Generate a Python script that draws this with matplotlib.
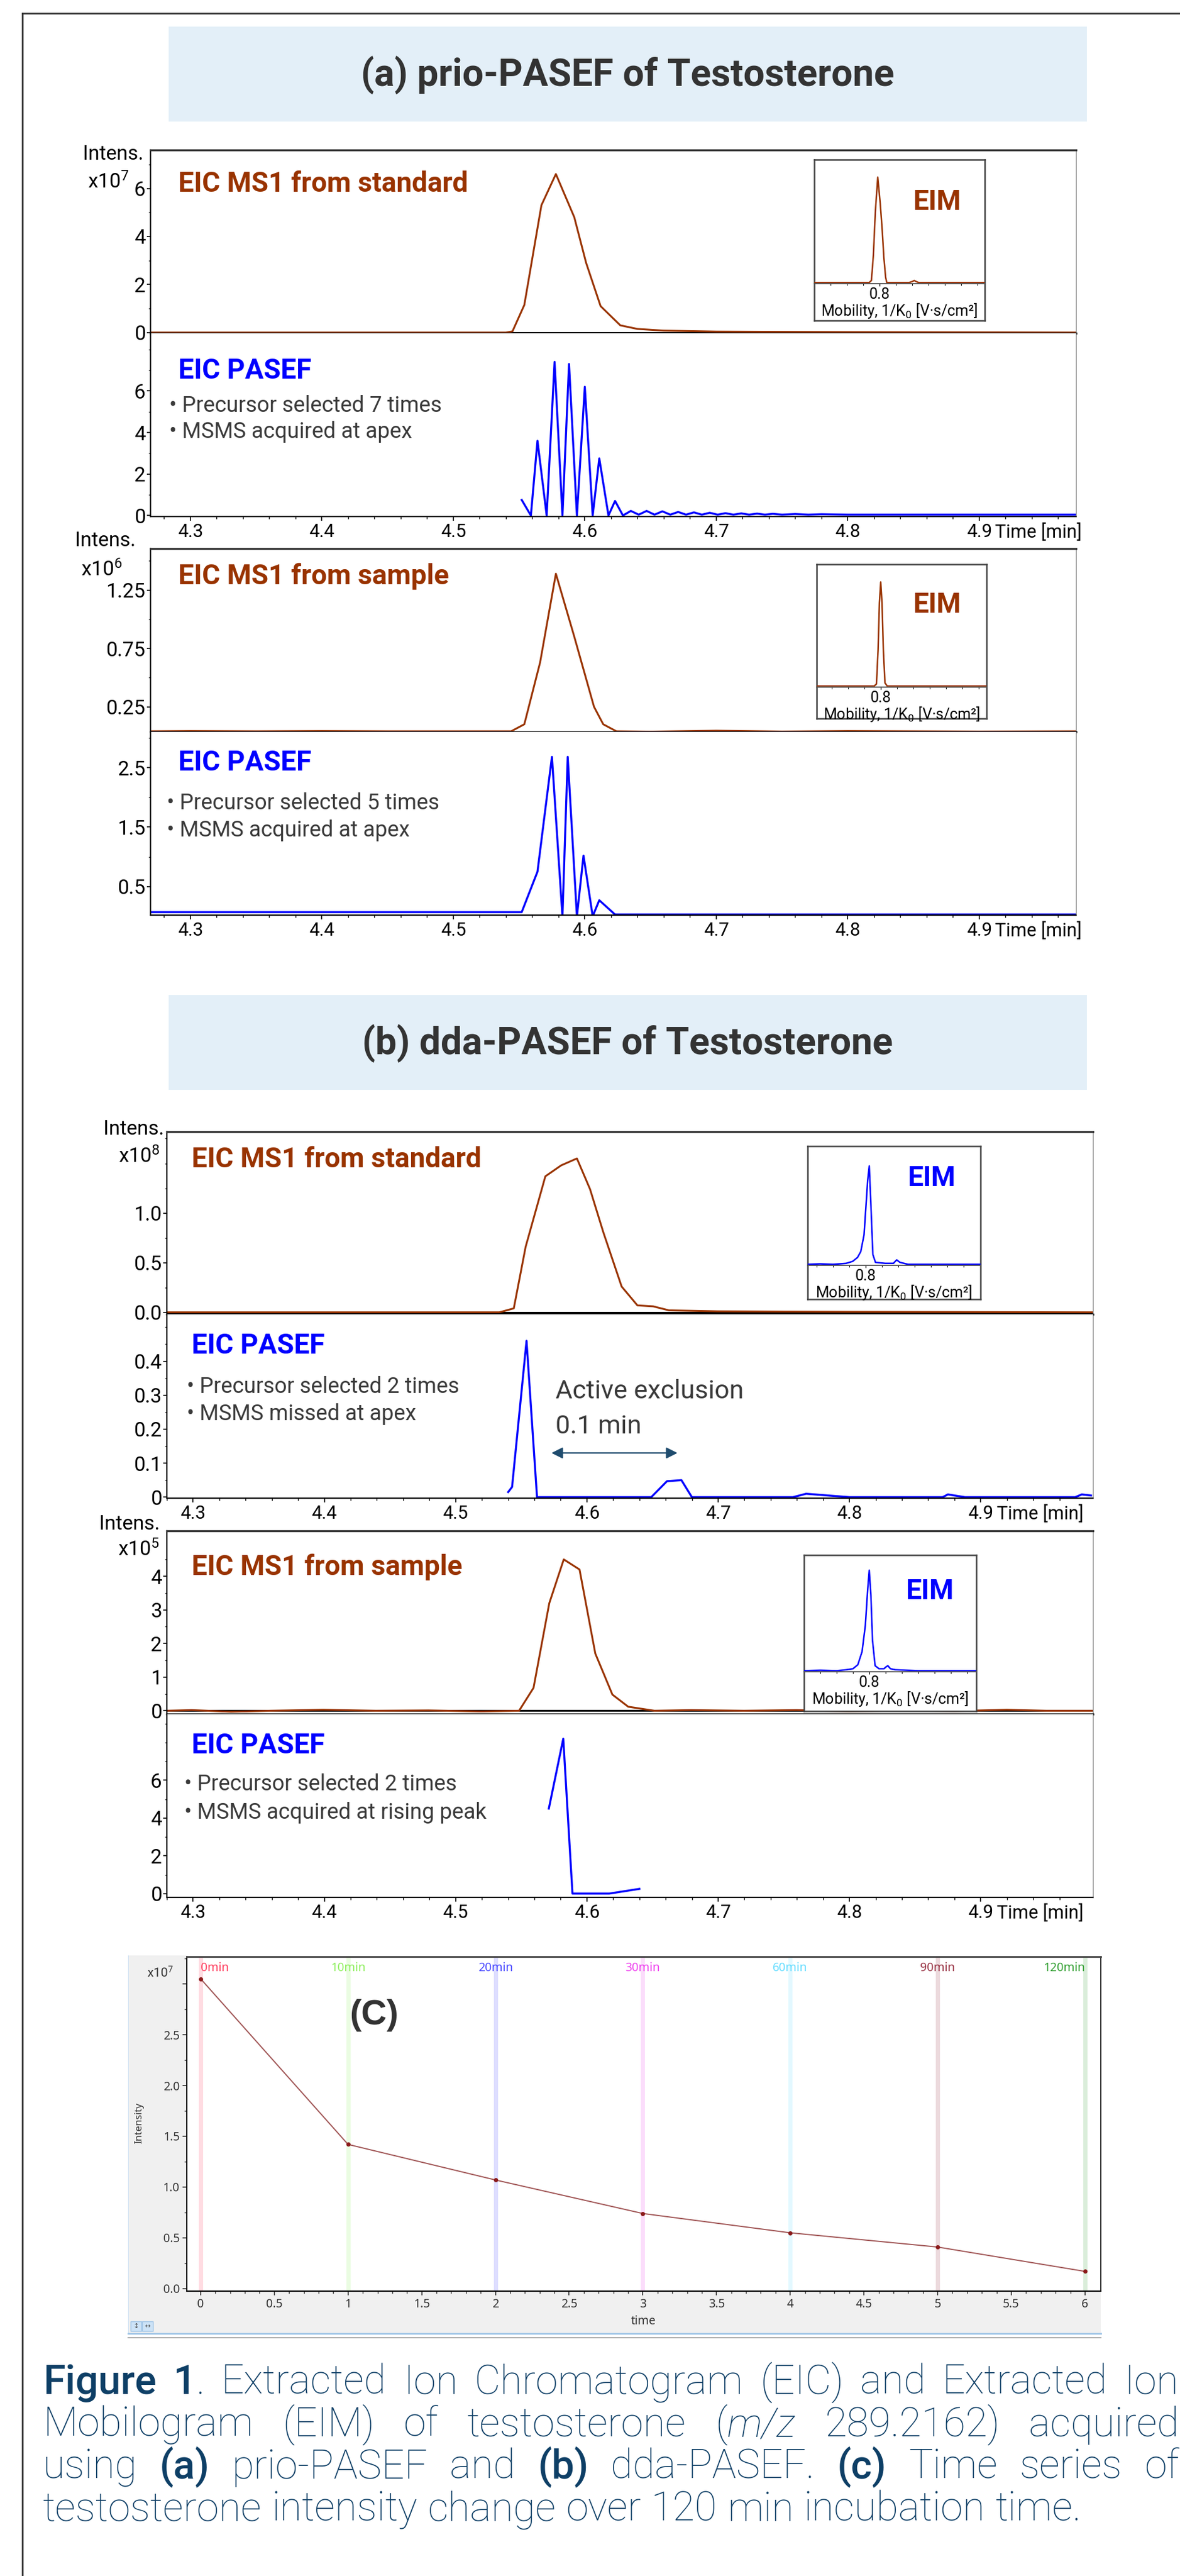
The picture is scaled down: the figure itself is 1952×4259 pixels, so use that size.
import re
import matplotlib
matplotlib.use("Agg")
import matplotlib.pyplot as plt
from matplotlib.lines import Line2D
from matplotlib.patches import Rectangle

plt.rcParams['font.family'] = ['Roboto', 'DejaVu Sans']
plt.rcParams['mathtext.fontset'] = 'custom'
plt.rcParams['mathtext.rm'] = 'Roboto'
plt.rcParams['mathtext.it'] = 'Roboto:italic'
plt.rcParams['mathtext.bf'] = 'Roboto:bold'

BROWN = '#993300'
BLUE = '#0000ff'
DARK = '#333333'
GREYTXT = '#3a3a3a'

# ---------------- data ----------------
# (a) prio-PASEF, standard
a1_ms1_t = [4.27, 4.54, 4.545, 4.554, 4.567, 4.578, 4.592, 4.601, 4.612, 4.627, 4.64, 4.66, 4.70, 4.80, 4.974]
a1_ms1_i = [0.0, 0.0, 0.05, 1.15, 5.3, 6.6, 4.8, 2.9, 1.1, 0.3, 0.15, 0.08, 0.04, 0.02, 0.0]
a1_pas_t = [4.552, 4.559, 4.564, 4.571, 4.577, 4.583, 4.588, 4.594, 4.600, 4.606, 4.611, 4.618,
            4.623, 4.629, 4.635, 4.641, 4.647, 4.653, 4.659, 4.665, 4.671, 4.677, 4.683, 4.689,
            4.695, 4.701, 4.707, 4.713, 4.719, 4.725, 4.731, 4.737, 4.743, 4.750, 4.760, 4.770,
            4.780, 4.800, 4.974]
a1_pas_i = [0.75, 0.0, 3.6, 0.0, 7.4, 0.0, 7.3, 0.0, 6.2, 0.0, 2.75, 0.0,
            0.7, 0.0, 0.22, 0.04, 0.22, 0.04, 0.2, 0.04, 0.17, 0.04, 0.15, 0.04,
            0.13, 0.04, 0.11, 0.04, 0.1, 0.04, 0.09, 0.04, 0.08, 0.04, 0.07, 0.04,
            0.06, 0.04, 0.04]
a1_eim_m = [0.60, 0.768, 0.775, 0.781, 0.787, 0.7944, 0.802, 0.808, 0.813, 0.8185, 0.822,
            0.89, 0.90, 0.906, 0.912, 0.92, 1.122]
a1_eim_i = [0.0, 0.0, 0.02, 0.26, 0.67, 1.0, 0.75, 0.5, 0.24, 0.05, 0.0,
            0.0, 0.01, 0.02, 0.01, 0.0, 0.0]

# (a) prio-PASEF, sample
a2_ms1_t = [4.27, 4.30, 4.35, 4.40, 4.45, 4.50, 4.544, 4.554, 4.566, 4.578, 4.592, 4.607,
            4.614, 4.624, 4.65, 4.70, 4.75, 4.80, 4.85, 4.90, 4.974]
a2_ms1_i = [0.04, 0.042, 0.04, 0.042, 0.04, 0.04, 0.04, 0.10, 0.63, 1.39, 0.85, 0.25,
            0.10, 0.04, 0.037, 0.045, 0.038, 0.042, 0.04, 0.038, 0.04]
a2_pas_t = [4.27, 4.552, 4.564, 4.575, 4.583, 4.587, 4.594, 4.599, 4.606, 4.611, 4.623, 4.974]
a2_pas_i = [0.07, 0.07, 0.75, 2.68, 0.0, 2.68, 0.0, 1.02, 0.0, 0.27, 0.03, 0.03]
a2_eim_m = [0.604, 0.78, 0.787, 0.792, 0.796, 0.80, 0.804, 0.808, 0.813, 0.82, 1.124]
a2_eim_i = [0.0, 0.0, 0.02, 0.35, 0.8, 1.0, 0.8, 0.35, 0.03, 0.0, 0.0]

# (b) dda-PASEF, standard
b1_ms1_t = [4.281, 4.534, 4.545, 4.554, 4.569, 4.581, 4.593, 4.603, 4.613, 4.627, 4.639,
            4.651, 4.663, 4.70, 4.80, 4.986]
b1_ms1_i = [0.0, 0.0, 0.04, 0.66, 1.37, 1.48, 1.55, 1.24, 0.81, 0.26, 0.07,
            0.06, 0.02, 0.01, 0.005, 0.0]
b1_pas_t = [4.540, 4.543, 4.554, 4.562, 4.649, 4.661, 4.672, 4.680, 4.757, 4.767, 4.800,
            4.871, 4.875, 4.888, 4.972, 4.977, 4.984]
b1_pas_i = [0.015, 0.03, 0.46, 0.0, 0.0, 0.047, 0.05, 0.0, 0.0, 0.01, 0.0,
            0.0, 0.008, 0.0, 0.0, 0.008, 0.005]
b1_eim_m = [0.622, 0.66, 0.70, 0.74, 0.76, 0.775, 0.785, 0.795, 0.80, 0.806, 0.811, 0.816,
            0.822, 0.83, 0.86, 0.885, 0.895, 0.905, 0.93, 1.0, 1.152]
b1_eim_i = [0.0, 0.005, 0.0, 0.01, 0.03, 0.07, 0.13, 0.3, 0.55, 0.85, 1.0, 0.6,
            0.1, 0.02, 0.01, 0.01, 0.045, 0.02, 0.0, 0.0, 0.0]

# (b) dda-PASEF, sample
b2_ms1_t = [4.281, 4.30, 4.33, 4.36, 4.40, 4.44, 4.48, 4.52, 4.549, 4.560, 4.572, 4.583,
            4.595, 4.607, 4.620, 4.632, 4.652, 4.68, 4.72, 4.76, 4.80, 4.84, 4.88, 4.92,
            4.95, 4.986]
b2_ms1_i = [0.0, 0.02, -0.03, 0.0, 0.03, 0.0, 0.01, -0.02, 0.0, 0.68, 3.2, 4.5,
            4.2, 1.7, 0.48, 0.12, 0.0, 0.02, 0.0, 0.02, -0.02, 0.01, -0.01, 0.03,
            0.0, 0.0]
b2_pas_t = [4.571, 4.582, 4.589, 4.617, 4.640]
b2_pas_i = [4.5, 8.2, 0.0, 0.0, 0.25]
b2_eim_m = [0.60, 0.65, 0.70, 0.73, 0.75, 0.765, 0.778, 0.788, 0.795, 0.80, 0.805, 0.81,
            0.818, 0.83, 0.845, 0.852, 0.857, 0.865, 0.88, 0.95, 1.128]
b2_eim_i = [0.0, 0.005, 0.0, 0.01, 0.02, 0.06, 0.19, 0.45, 0.8, 1.0, 0.75, 0.3,
            0.05, 0.02, 0.02, 0.04, 0.05, 0.02, 0.01, 0.0, 0.0]

# (c) time series
c_time = [0, 1, 2, 3, 4, 5, 6]
c_intens = [3.05, 1.42, 1.07, 0.74, 0.55, 0.41, 0.17]
c_labels = ['0min', '10min', '20min', '30min', '60min', '90min', '120min']
c_colors = ['#ff3f5f', '#8fef5f', '#4848ff', '#ee44ee', '#66ddff', '#993344', '#33a033']

x_ticks = [4.3, 4.4, 4.5, 4.6, 4.7, 4.8, 4.9]
x_ticklabels = ['4.3', '4.4', '4.5', '4.6', '4.7', '4.8', '4.9']

caption = [
    "**Figure** **1**. Extracted Ion Chromatogram (EIC) and Extracted Ion",
    "Mobilogram (EIM) of testosterone (_m/z_ 289.2162) acquired",
    "using **(a)** prio-PASEF and **(b)** dda-PASEF. **(c)** Time series of",
    "testosterone intensity change over 120 min incubation time.",
]

# ---------------- figure ----------------
W, H = 1952, 4259
DPI = 100
fig = plt.figure(figsize=(W / DPI, H / DPI), dpi=DPI)


def px_axes(l, t, r, b):
    return fig.add_axes([l / W, 1 - b / H, (r - l) / W, (b - t) / H])


def ftext(x, y, s, **kw):
    return fig.text(x / W, 1 - y / H, s, **kw)


# outer frame
fig.add_artist(Line2D([37 / W, 37 / W], [0, 1 - 22 / H], color=DARK, lw=2))
fig.add_artist(Line2D([37 / W, 1], [1 - 22 / H, 1 - 22 / H], color=DARK, lw=2))

# title boxes
for top, bot, title in [(44, 201, '(a) prio-PASEF of Testosterone'),
                        (1645, 1802, '(b) dda-PASEF of Testosterone')]:
    fig.add_artist(Rectangle((279 / W, 1 - bot / H), (1798 - 279) / W, (bot - top) / H,
                             transform=fig.transFigure, facecolor='#e3eff8', edgecolor='none'))
    ftext(1038, (top + bot) / 2 + 2, title, ha='center', va='center', fontsize=45,
          fontweight='bold', color=DARK)


def chrom(l, r, t, mid, b, xlim, ms1_t, ms1_i, ms1_ylim, ms1_ticks, ms1_minor,
          pas_t, pas_i, pas_ylim, pas_ticks, pas_minor):
    ax1 = px_axes(l, t, r, mid)
    ax2 = px_axes(l, mid, r, b)
    ax1.axhline(0, color='black', lw=2.2, zorder=1)
    ax1.plot(ms1_t, ms1_i, color=BROWN, lw=2.2, zorder=2)
    ax2.plot(pas_t, pas_i, color=BLUE, lw=2.4)
    ax1.set_ylim(ms1_ylim)
    ax2.set_ylim(pas_ylim)
    ax1.set_yticks(ms1_ticks[0], ms1_ticks[1])
    ax1.set_yticks(ms1_minor, minor=True)
    ax2.set_yticks(pas_ticks[0], pas_ticks[1])
    ax2.set_yticks(pas_minor, minor=True)
    for ax in (ax1, ax2):
        ax.set_xlim(xlim)
        ax.spines['left'].set_linewidth(1.6)
        ax.spines['right'].set_color('#888888')
        ax.spines['right'].set_linewidth(1.0)
        ax.tick_params(axis='y', which='major', direction='out', length=4, width=1.2,
                       labelsize=24, pad=2)
        ax.tick_params(axis='y', which='minor', direction='out', length=2.5, width=1.0)
    ax1.spines['top'].set_color(DARK)
    ax1.spines['top'].set_linewidth(2.4)
    ax1.spines['bottom'].set_linewidth(2.4)
    ax2.spines['top'].set_visible(False)
    ax2.spines['bottom'].set_linewidth(1.6)
    ax1.tick_params(axis='x', which='both', bottom=False, labelbottom=False)
    ax2.set_xticks(x_ticks, x_ticklabels)
    ax2.set_xticks([v / 100 for v in range(428, 498, 2)], minor=True)
    ax2.tick_params(axis='x', which='major', direction='out', length=5, width=1.2,
                    labelsize=22, pad=3)
    ax2.tick_params(axis='x', which='minor', direction='out', length=3, width=1.0)
    ax2.annotate('Time [min]', xy=(4.9, 0), xycoords=('data', 'axes fraction'),
                 xytext=(19, -8), textcoords='offset points', ha='left', va='top',
                 fontsize=22, annotation_clip=False)
    return ax1, ax2


def eim(l, t, r, base, b, mob, inten, ytop, color, lab_x, lab_y):
    frame = px_axes(l, t, r, b)
    frame.set_xticks([])
    frame.set_yticks([])
    for s in frame.spines.values():
        s.set_color('#444444')
        s.set_linewidth(1.8)
    ax = px_axes(l, t, r, base)
    ax.patch.set_alpha(0)
    ax.plot(mob, inten, color=color, lw=1.8)
    ax.set_xlim(mob[0], mob[-1])
    ax.set_ylim(-0.01, ytop)
    ax.set_yticks([])
    for side in ('top', 'left', 'right'):
        ax.spines[side].set_visible(False)
    ax.spines['bottom'].set_color('#555555')
    ax.spines['bottom'].set_linewidth(1.4)
    ax.set_xticks([0.8], ['0.8'])
    ax.set_xticks([0.65, 0.7, 0.75, 0.85, 0.9, 0.95, 1.0, 1.05, 1.1], minor=True)
    ax.tick_params(axis='x', which='major', length=3, width=1, labelsize=18, pad=1)
    ax.tick_params(axis='x', which='minor', length=2, width=0.8)
    ax.set_xlabel('Mobility, 1/K$_0$ [V·s/cm²]', fontsize=18, labelpad=0)
    ftext(lab_x, lab_y, 'EIM', ha='center', va='baseline', fontsize=33,
          fontweight='bold', color=color)


def label_block(x_title, y_title, title, color, x_b, y_b1, y_b2, b1, b2):
    ftext(x_title, y_title, title, ha='left', va='baseline', fontsize=33,
          fontweight='bold', color=color)
    if b1:
        ftext(x_b, y_b1, '• ' + b1, ha='left', va='baseline', fontsize=26, color=GREYTXT)
        ftext(x_b, y_b2, '• ' + b2, ha='left', va='baseline', fontsize=26, color=GREYTXT)


# ---- (a) standard ----
xa = (4.2697, 4.9736)
chrom(249, 1780, 248, 551, 854, xa, a1_ms1_t, a1_ms1_i, (-0.03, 7.6),
      ([0, 2, 4, 6], ['0', '2', '4', '6']), [1, 3, 5, 7],
      a1_pas_t, a1_pas_i, (-0.05, 8.78), ([0, 2, 4, 6], ['0', '2', '4', '6']), [1, 3, 5, 7, 8])
ftext(237, 255, 'Intens.', ha='right', va='center', fontsize=24)
ftext(214, 301, 'x10$^7$', ha='right', va='center', fontsize=24)
label_block(295, 317, 'EIC MS1 from standard', BROWN, 0, 0, 0, None, None)
label_block(295, 626, 'EIC PASEF', BLUE, 280, 681, 724,
            'Precursor selected 7 times', 'MSMS acquired at apex')
eim(1347, 264, 1629, 469, 530, a1_eim_m, a1_eim_i, 1.165, BROWN, 1550, 347)

# ---- (a) sample ----
chrom(249, 1780, 907, 1210, 1513, xa, a2_ms1_t, a2_ms1_i, (0.035, 1.605),
      ([0.25, 0.75, 1.25], ['0.25', '0.75', '1.25']), [0.5, 1.0, 1.5],
      a2_pas_t, a2_pas_i, (0.02, 3.1), ([0.5, 1.5, 2.5], ['0.5', '1.5', '2.5']), [1.0, 2.0, 3.0])
ftext(224, 894, 'Intens.', ha='right', va='center', fontsize=24)
ftext(202, 942, 'x10$^6$', ha='right', va='center', fontsize=24)
label_block(295, 966, 'EIC MS1 from sample', BROWN, 0, 0, 0, None, None)
label_block(295, 1274, 'EIC PASEF', BLUE, 276, 1338, 1383,
            'Precursor selected 5 times', 'MSMS acquired at apex')
eim(1351, 933, 1632, 1136, 1188, a2_eim_m, a2_eim_i, 1.17, BROWN, 1550, 1013)

# ---- (b) standard ----
xb = (4.2811, 4.9855)
ax_b1, ax_b1p = chrom(276, 1808, 1871, 2173, 2477, xb, b1_ms1_t, b1_ms1_i, (-0.02, 1.82),
                      ([0.0, 0.5, 1.0], ['0.0', '0.5', '1.0']), [0.25, 0.75, 1.25, 1.5, 1.75],
                      b1_pas_t, b1_pas_i, (-0.003, 0.538),
                      ([0, 0.1, 0.2, 0.3, 0.4], ['0', '0.1', '0.2', '0.3', '0.4']),
                      [0.05, 0.15, 0.25, 0.35, 0.45, 0.5])
ftext(271, 1867, 'Intens.', ha='right', va='center', fontsize=24)
ftext(264, 1912, 'x10$^8$', ha='right', va='center', fontsize=24)
label_block(317, 1930, 'EIC MS1 from standard', BROWN, 0, 0, 0, None, None)
label_block(317, 2238, 'EIC PASEF', BLUE, 309, 2303, 2348,
            'Precursor selected 2 times', 'MSMS missed at apex')
ftext(919, 2312, 'Active exclusion', ha='left', va='baseline', fontsize=31, color=GREYTXT)
ftext(919, 2370, '0.1 min', ha='left', va='baseline', fontsize=31, color=GREYTXT)
ax_b1p.annotate('', xy=(4.669, 0.13), xytext=(4.573, 0.13),
                arrowprops=dict(arrowstyle='<|-|>', color='#1f4c6e', lw=1.6, mutation_scale=28,
                                shrinkA=0, shrinkB=0))
eim(1336, 1895, 1622, 2092, 2148, b1_eim_m, b1_eim_i, 1.2, BLUE, 1541, 1961)

# ---- (b) sample ----
chrom(276, 1808, 2531, 2834, 3137, xb, b2_ms1_t, b2_ms1_i, (-0.1, 5.35),
      ([0, 1, 2, 3, 4], ['0', '1', '2', '3', '4']), [0.5, 1.5, 2.5, 3.5, 4.5],
      b2_pas_t, b2_pas_i, (-0.2, 9.5), ([0, 2, 4, 6], ['0', '2', '4', '6']), [1, 3, 5, 7, 8, 9])
ftext(264, 2520, 'Intens.', ha='right', va='center', fontsize=24)
ftext(264, 2562, 'x10$^5$', ha='right', va='center', fontsize=24)
label_block(317, 2604, 'EIC MS1 from sample', BROWN, 0, 0, 0, None, None)
label_block(317, 2899, 'EIC PASEF', BLUE, 305, 2960, 3007,
            'Precursor selected 2 times', 'MSMS acquired at rising peak')
eim(1330, 2571, 1615, 2764, 2829, b2_eim_m, b2_eim_i, 1.15, BLUE, 1538, 2644)

# ---- (c) time series ----
bg = px_axes(212, 3233, 1821, 3858)
bg.set_facecolor('#f0f0f0')
bg.set_xticks([])
bg.set_yticks([])
for side in ('top', 'right'):
    bg.spines[side].set_visible(False)
bg.spines['left'].set_color('#cfe2f3')
bg.spines['bottom'].set_color('#9cc3e6')
bg.spines['bottom'].set_linewidth(2)
fig.add_artist(Line2D([212 / W, 1821 / W], [1 - 3865 / H, 1 - 3865 / H], color='#aaaaaa', lw=1.5))
for k, ch in enumerate(['↕', '↔']):
    x0 = 216 + k * 19
    fig.add_artist(Rectangle((x0 / W, 1 - 3854 / H), 18 / W, 16 / H, transform=fig.transFigure,
                             facecolor='#cde3f7', edgecolor='#9cc3e6', lw=1))
    ftext(x0 + 9, 3846, ch, ha='center', va='center', fontsize=8, color='#444444',
          family='DejaVu Sans')

cax = px_axes(309, 3235, 1821, 3788)
cax.set_xlim(-0.094, 6.107)
cax.set_ylim(-0.024, 3.268)
for x, lab, col in zip(c_time, c_labels, c_colors):
    cax.axvline(x, color=col, alpha=0.18, lw=5, zorder=1)
    ha = 'left' if x == c_time[0] else ('right' if x == c_time[-1] else 'center')
    cax.text(x, 3.155, lab, color=col, ha=ha, va='center', fontsize=14, family='Noto Sans')
cax.plot(c_time, c_intens, color='#a05555', lw=1.4, marker='o', ms=4,
         mfc='#8b1a1a', mec='#8b1a1a', zorder=3)
cax.set_yticks([0, 0.5, 1.0, 1.5, 2.0, 2.5, 3.0], ['0.0', '0.5', '1.0', '1.5', '2.0', '2.5', ''])
cax.set_yticks([0.25, 0.75, 1.25, 1.75, 2.25, 2.75, 3.25], minor=True)
cax.set_xticks([v / 2 for v in range(13)],
               ['0', '0.5', '1', '1.5', '2', '2.5', '3', '3.5', '4', '4.5', '5', '5.5', '6'])
cax.set_xticks([v / 10 for v in range(61)], minor=True)
cax.tick_params(which='major', direction='out', length=5, width=1.2, color='#333333',
                labelsize=14, labelcolor='#333333')
cax.tick_params(which='minor', direction='out', length=3, width=1.0, color='#333333')
for lab in cax.get_xticklabels() + cax.get_yticklabels():
    lab.set_family('Noto Sans')
cax.spines['top'].set_color('#444444')
cax.spines['top'].set_linewidth(2)
cax.spines['left'].set_linewidth(1.5)
cax.spines['bottom'].set_linewidth(1.5)
cax.spines['right'].set_linewidth(1.2)
ftext(287, 3262, 'x10$^7$', ha='right', va='center', fontsize=15, color='#333333')
ftext(230, 3510, 'Intensity', ha='center', va='center', rotation=90, fontsize=12,
      color='#333333', family='Noto Sans')
ftext(1064, 3838, 'time', ha='center', va='center', fontsize=14, color='#333333',
      family='Noto Sans')
ftext(619, 3332, '(C)', ha='center', va='center', fontsize=42, fontweight='bold',
      color=DARK, family='Liberation Sans')

# ---- caption (justified) ----
renderer = fig.canvas.get_renderer()
CAP_SIZE = 48
CAP_COLOR = '#0e3f66'
cap_left, cap_right = 71, 1950
cap_base = [3958, 4028, 4098, 4168]
for n, (line, yb) in enumerate(zip(caption, cap_base)):
    words = []
    for w in line.split(' '):
        segs = []
        for part in re.split(r'(\*\*.+?\*\*|_.+?_)', w):
            if not part:
                continue
            if part.startswith('**'):
                segs.append(ftext(0, yb, part[2:-2], fontsize=CAP_SIZE, fontweight='medium',
                                  color=CAP_COLOR, va='baseline'))
            elif part.startswith('_'):
                segs.append(ftext(0, yb, part[1:-1], fontsize=CAP_SIZE, fontweight='light',
                                  fontstyle='italic', color=CAP_COLOR, va='baseline'))
            else:
                segs.append(ftext(0, yb, part, fontsize=CAP_SIZE, fontweight='light',
                                  color=CAP_COLOR, va='baseline'))
        words.append(segs)
    widths = [[s.get_window_extent(renderer).width for s in segs] for segs in words]
    total = sum(sum(ws) for ws in widths)
    if n < len(caption) - 1:
        gap = (cap_right - cap_left - total) / (len(words) - 1)
    else:
        gap = CAP_SIZE * DPI / 72 * 0.25
    x = cap_left
    for segs, ws in zip(words, widths):
        for s, wdt in zip(segs, ws):
            s.set_x(x / W)
            x += wdt
        x += gap

fig.savefig('out.png', dpi=DPI)
